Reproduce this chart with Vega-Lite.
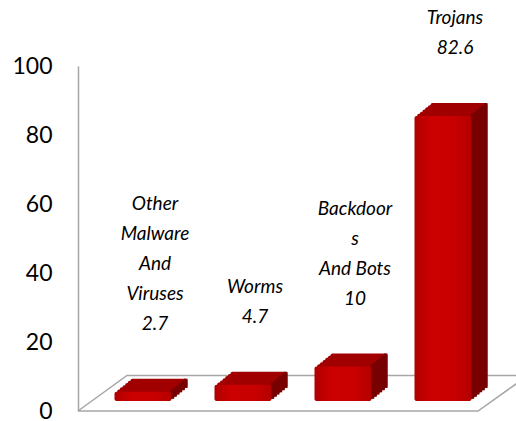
{
  "$schema": "https://vega.github.io/schema/vega-lite/v6.json",
  "autosize": {"type": "none"},
  "width": 430,
  "height": 345,
  "padding": {"left": 78, "top": 66, "right": 8, "bottom": 10},
  "background": "white",
  "config": {"view": {"stroke": null}},
  "resolve": {"scale": {"x": "independent"}},
  "layer": [
    {
      "data": {"values": [
        {"fx": 0, "fy": 0, "o": 1},
        {"fx": 400, "fy": 0, "o": 2},
        {"fx": 450, "fy": 10.3, "o": 3},
        {"fx": 49, "fy": 10.3, "o": 4},
        {"fx": 0, "fy": 0, "o": 5}
      ]},
      "mark": {"type": "line", "color": "#a6a6a6", "strokeWidth": 1.5, "clip": false},
      "encoding": {
        "x": {"field": "fx", "type": "quantitative", "scale": {"domain": [0, 430], "nice": false, "zero": false}, "axis": null},
        "y": {"field": "fy", "type": "quantitative", "scale": {"domain": [0, 100], "nice": false},
          "axis": {"values": [0, 20, 40, 60, 80, 100], "ticks": false, "grid": false, "title": null,
            "domainColor": "#a6a6a6", "domainWidth": 1.5, "labelFont": "Lato", "labelFontSize": 23,
            "labelColor": "#000000", "labelPadding": 26}},
        "order": {"field": "o", "type": "quantitative"}
      }
    },
    {
      "data": {"values": [
        {"category": "Other Malware And Viruses", "value": 2.7, "label": "Other\nMalware\nAnd\nViruses\n2.7"},
        {"category": "Worms", "value": 4.7, "label": "Worms\n4.7"},
        {"category": "Backdoors And Bots", "value": 10, "label": "Backdoor\ns\nAnd Bots\n10"},
        {"category": "Trojans", "value": 82.6, "label": "Trojans\n82.6"}
      ]},
      "encoding": {
        "x": {"field": "category", "type": "nominal", "sort": null, "scale": {"type": "band", "paddingInner": 0.43, "paddingOuter": 0.365}, "axis": null},
        "y": {"field": "value", "type": "quantitative", "stack": null, "scale": {"domain": [0, 100], "nice": false},
          "axis": {"values": [0, 20, 40, 60, 80, 100], "ticks": false, "grid": false, "title": null,
            "domainColor": "#a6a6a6", "domainWidth": 1.5, "labelFont": "Lato", "labelFontSize": 23,
            "labelColor": "#000000", "labelPadding": 26}}
      },
      "layer": [
        {"mark": {"type": "bar", "color": "#a00000", "xOffset": 16, "x2Offset": 16, "yOffset": -23, "y2Offset": -23, "cornerRadius": 2}, "encoding": {"y2": {"datum": 0}}},
        {"mark": {"type": "bar", "color": "#a00000", "xOffset": 13.33, "x2Offset": 13.33, "yOffset": -20.83, "y2Offset": -20.83, "cornerRadius": 2}, "encoding": {"y2": {"datum": 0}}},
        {"mark": {"type": "bar", "color": "#a00000", "xOffset": 10.67, "x2Offset": 10.67, "yOffset": -18.67, "y2Offset": -18.67, "cornerRadius": 2}, "encoding": {"y2": {"datum": 0}}},
        {"mark": {"type": "bar", "color": "#a00000", "xOffset": 8, "x2Offset": 8, "yOffset": -16.5, "y2Offset": -16.5, "cornerRadius": 2}, "encoding": {"y2": {"datum": 0}}},
        {"mark": {"type": "bar", "color": "#a00000", "xOffset": 5.33, "x2Offset": 5.33, "yOffset": -14.33, "y2Offset": -14.33, "cornerRadius": 2}, "encoding": {"y2": {"datum": 0}}},
        {"mark": {"type": "bar", "color": "#a00000", "xOffset": 2.67, "x2Offset": 2.67, "yOffset": -12.17, "y2Offset": -12.17, "cornerRadius": 2}, "encoding": {"y2": {"datum": 0}}},
        {"mark": {"type": "bar", "color": "#780000", "width": 3.5, "xOffset": 42.75, "yOffset": -23, "y2Offset": -23}, "encoding": {"y2": {"datum": 0}}},
        {"mark": {"type": "bar", "color": "#780000", "width": 3.5, "xOffset": 40.08, "yOffset": -20.83, "y2Offset": -20.83}, "encoding": {"y2": {"datum": 0}}},
        {"mark": {"type": "bar", "color": "#780000", "width": 3.5, "xOffset": 37.42, "yOffset": -18.67, "y2Offset": -18.67}, "encoding": {"y2": {"datum": 0}}},
        {"mark": {"type": "bar", "color": "#780000", "width": 3.5, "xOffset": 34.75, "yOffset": -16.5, "y2Offset": -16.5}, "encoding": {"y2": {"datum": 0}}},
        {"mark": {"type": "bar", "color": "#780000", "width": 3.5, "xOffset": 32.08, "yOffset": -14.33, "y2Offset": -14.33}, "encoding": {"y2": {"datum": 0}}},
        {"mark": {"type": "bar", "color": "#780000", "width": 3.5, "xOffset": 29.42, "yOffset": -12.17, "y2Offset": -12.17}, "encoding": {"y2": {"datum": 0}}},
        {"mark": {"type": "bar", "yOffset": -10, "y2Offset": -10, "cornerRadius": 2,
          "color": {"gradient": "linear", "x1": 0, "x2": 1, "y1": 0, "y2": 0,
            "stops": [
              {"offset": 0, "color": "#b00000"},
              {"offset": 0.3, "color": "#cc0000"},
              {"offset": 0.7, "color": "#c80000"},
              {"offset": 1, "color": "#b40000"}
            ]}}, "encoding": {"y2": {"datum": 0}}},
        {"transform": [{"calculate": "reverse(split(datum.label, '\\n'))", "as": "lines"}],
          "mark": {"type": "text", "baseline": "alphabetic", "align": "center",
          "dy": -72, "dx": 12, "font": "Lato", "fontStyle": "italic", "fontSize": 19,
          "lineHeight": -30, "color": "#000000"},
          "encoding": {"text": {"field": "lines", "type": "nominal"}}}
      ]
    }
  ]
}
